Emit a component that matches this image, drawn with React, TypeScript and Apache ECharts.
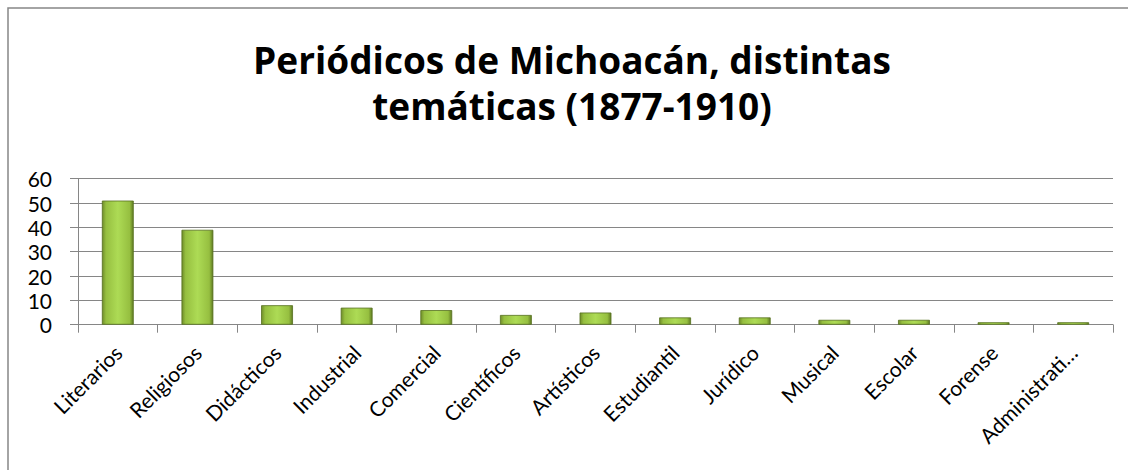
import React, { useEffect, useRef } from "react";
import * as echarts from "echarts";

const categories = [
  "Literarios",
  "Religiosos",
  "Didácticos",
  "Industrial",
  "Comercial",
  "Científicos",
  "Artísticos",
  "Estudiantil",
  "Jurídico",
  "Musical",
  "Escolar",
  "Forense",
  "Administrativo",
];
const values = [51, 39, 8, 7, 6, 4, 5, 3, 3, 2, 2, 1, 1];
const titleLines = ["Periódicos de Michoacán, distintas", "temáticas (1877-1910)"];

export default function App() {
  const ref = useRef<HTMLDivElement>(null);
  useEffect(() => {
    if (!ref.current) return;
    const chart = echarts.init(ref.current, null, { renderer: "svg" });
    const gray = "#868686";
    chart.setOption({
      animation: false,
      backgroundColor: "#ffffff",
      textStyle: { fontFamily: "Lato" },
      graphic: [
        {
          type: "rect",
          shape: { x: 8, y: 8, width: 1200, height: 600 },
          style: { fill: "none", stroke: gray, lineWidth: 1.5 },
          silent: true,
        },
        {
          type: "text",
          x: 572,
          y: 82,
          style: {
            text: titleLines.join("\n"),
            fontFamily: "Open Sans",
            fontWeight: "bold",
            fontSize: 37,
            lineHeight: 46,
            fill: "#000",
            textAlign: "center",
            textVerticalAlign: "middle",
          },
        },
      ],
      grid: { left: 78, right: 15, top: 178.7, bottom: 145.3, containLabel: false },
      xAxis: {
        type: "category",
        data: categories,
        axisLine: { show: true, lineStyle: { color: gray, width: 1 } },
        axisTick: { show: true, length: 8, interval: 0, lineStyle: { color: gray } },
        axisLabel: {
          rotate: 45,
          interval: 0,
          margin: 24,
          fontSize: 21,
          color: "#000",
          fontFamily: "Lato",
          formatter: (v: string) => (v.length > 12 ? v.slice(0, 12) + "…" : v),
        },
      },
      yAxis: {
        type: "value",
        min: 0,
        max: 60,
        interval: 10,
        axisLine: { show: true, lineStyle: { color: gray, width: 1 } },
        axisTick: { show: true, length: 8, lineStyle: { color: gray } },
        splitLine: { show: true, lineStyle: { color: gray, width: 1 } },
        axisLabel: { fontSize: 21, color: "#000", margin: 26, fontFamily: "Lato" },
      },
      series: [
        {
          type: "bar",
          data: values,
          barWidth: "40%",
          itemStyle: {
            color: new echarts.graphic.LinearGradient(0, 0, 1, 0, [
              { offset: 0, color: "#6f8c2a" },
              { offset: 0.12, color: "#96bf40" },
              { offset: 0.5, color: "#addb55" },
              { offset: 0.88, color: "#96bf40" },
              { offset: 1, color: "#5f7a22" },
            ]),
            borderColor: "#55701e",
            borderWidth: 0.8,
          },
        },
      ],
    });
    return () => chart.dispose();
  }, []);
  return (
    <div
      ref={ref}
      style={{ position: "fixed", left: 0, top: 0, width: 1128, height: 470 }}
    />
  );
}
